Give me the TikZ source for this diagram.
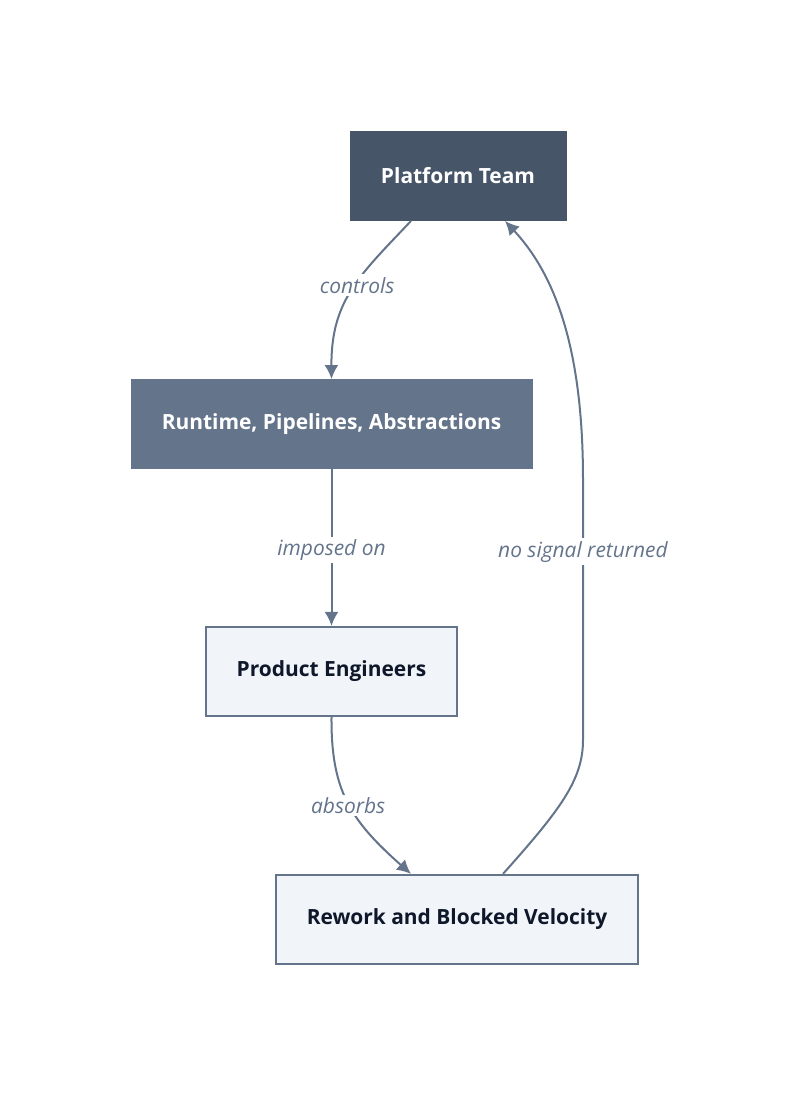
\documentclass[tikz,border=0pt]{standalone}
\usepackage{fontspec}
\setmainfont{Open Sans}
\usetikzlibrary{arrows.meta,calc}
\definecolor{slatedark}{HTML}{475569}
\definecolor{slatemid}{HTML}{64748B}
\definecolor{slatelight}{HTML}{F1F5F9}
\definecolor{inkdark}{HTML}{0F172A}
\begin{document}
\begin{tikzpicture}[x=0.75pt,y=-0.75pt,
    box/.style={rectangle, minimum height=67pt, font=\bfseries\fontsize{15.7}{18}\selectfont},
    owner/.style={box, fill=slatedark, draw=slatedark, text=white},
    layer/.style={box, fill=slatemid, draw=slatemid, text=white},
    team/.style={box, fill=slatelight, draw=slatemid, line width=1.4pt, text=inkdark},
    flow/.style={draw=slatemid, line width=1.5pt, -{Latex[length=10.5pt,width=10.5pt]}},
    lbl/.style={fill=white, text=slatemid, inner sep=2pt, yshift=-2pt, font=\itshape\fontsize{15.7}{18}\selectfont}]
    \useasboundingbox (0,0) rectangle (800,1096);
    \node[owner, minimum width=162pt] (plat) at (458,176) {Platform Team};
    \node[layer, minimum width=300.75pt] (rt) at (331.5,424) {Runtime, Pipelines, Abstractions};
    \node[team, minimum width=188pt] (pe) at (331.5,671.5) {Product Engineers};
    \node[team, minimum width=271pt] (rew) at (457,919.5) {Rework and Blocked Velocity};
    % edges
    \draw[flow] ($(plat.south)+(-47,0)$) .. controls (360,275) and (331,300) .. (rt.north)
        node[lbl, pos=0.44] (c1) {controls};
    \draw[flow] (rt.south) -- (pe.north) node[lbl, midway] (c2) {imposed on};
    \draw[flow] (pe.south) .. controls (331,790) and (350,820) .. ($(rew.north)+(-46,0)$)
        node[lbl, pos=0.5] (c3) {absorbs};
    \coordinate (up1) at (583,740);
    \coordinate (up2) at (583,480);
    \draw[flow] ($(rew.north)+(46,0)$) .. controls (560,810) and (583,780) .. (up1)
        -- (up2) node[lbl, pos=0.735] (c4) {no signal returned}
        .. controls (583,360) and (560,280) .. ($(plat.south)+(47,0)$);
\end{tikzpicture}
\end{document}
